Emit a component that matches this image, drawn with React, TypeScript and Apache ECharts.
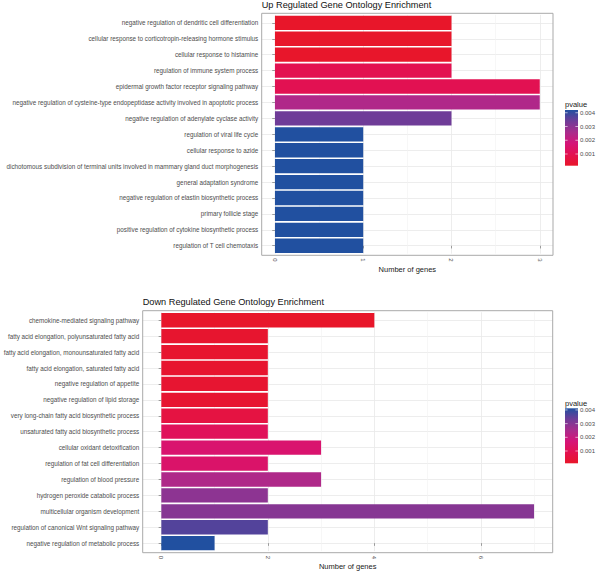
import React, { useEffect, useRef } from "react";
import * as echarts from "echarts";

const upTitle = "Up Regulated Gene Ontology Enrichment";
const downTitle = "Down Regulated Gene Ontology Enrichment";
const axisName = "Number of genes";
const legendTitle = "pvalue";

const upCategories = [
  "negative regulation of dendritic cell differentiation",
  "cellular response to corticotropin-releasing hormone stimulus",
  "cellular response to histamine",
  "regulation of immune system process",
  "epidermal growth factor receptor signaling pathway",
  "negative regulation of cysteine-type endopeptidase activity involved in apoptotic process",
  "negative regulation of adenylate cyclase activity",
  "regulation of viral life cycle",
  "cellular response to azide",
  "dichotomous subdivision of terminal units involved in mammary gland duct morphogenesis",
  "general adaptation syndrome",
  "negative regulation of elastin biosynthetic process",
  "primary follicle stage",
  "positive regulation of cytokine biosynthetic process",
  "regulation of T cell chemotaxis",
];
const upCounts = [2, 2, 2, 2, 3, 3, 2, 1, 1, 1, 1, 1, 1, 1, 1];
const upPvalues = [
  0.00015, 0.00015, 0.00018, 0.00095, 0.001, 0.00246, 0.00339,
  0.0042, 0.0042, 0.0042, 0.0042, 0.0042, 0.0042, 0.0042, 0.0042,
];

const downCategories = [
  "chemokine-mediated signaling pathway",
  "fatty acid elongation, polyunsaturated fatty acid",
  "fatty acid elongation, monounsaturated fatty acid",
  "fatty acid elongation, saturated fatty acid",
  "negative regulation of appetite",
  "negative regulation of lipid storage",
  "very long-chain fatty acid biosynthetic process",
  "unsaturated fatty acid biosynthetic process",
  "cellular oxidant detoxification",
  "regulation of fat cell differentiation",
  "regulation of blood pressure",
  "hydrogen peroxide catabolic process",
  "multicellular organism development",
  "regulation of canonical Wnt signaling pathway",
  "negative regulation of metabolic process",
];
const downCounts = [4, 2, 2, 2, 2, 2, 2, 2, 3, 2, 3, 2, 7, 2, 1];
const downPvalues = [
  0.0001, 0.0002, 0.0002, 0.0002, 0.00025, 0.00025, 0.0006, 0.0011,
  0.0015, 0.0014, 0.0024, 0.0029, 0.003, 0.0036, 0.00412,
];

const upTicks = [0, 1, 2, 3];
const upMinorTicks = [0.5, 1.5, 2.5];
const downTicks = [0, 2, 4, 6];
const downMinorTicks = [1, 3, 5, 7];
const legendTicks = [0.001, 0.002, 0.003, 0.004];
const legendTickLabels = ["0.001", "0.002", "0.003", "0.004"];

const gradientColors = ["#e8162a", "#e31150", "#d51478", "#a92c8c", "#6f3c98", "#2150a0"];

const FONT = "Liberation Sans, Arial, Helvetica, sans-serif";

export default function App() {
  const ref = useRef<HTMLDivElement>(null);

  useEffect(() => {
    if (!ref.current) return;
    const chart = echarts.init(ref.current, null, { renderer: "svg" });

    const panels = [
      {
        cats: upCategories, counts: upCounts, pvals: upPvalues,
        ticks: upTicks, minor: upMinorTicks, min: -0.15, max: 3.15,
        left: 261.7, right: 553, top: 13.3, bottom: 255.3,
        title: upTitle, titleTop: 0.5,
        legTop: 110, legH: 55.7, legTitleY: 104.5,
      },
      {
        cats: downCategories, counts: downCounts, pvals: downPvalues,
        ticks: downTicks, minor: downMinorTicks, min: -0.35, max: 7.35,
        left: 142.7, right: 552.7, top: 310.7, bottom: 552.7,
        title: downTitle, titleTop: 297.5,
        legTop: 408.3, legH: 55, legTitleY: 403,
      },
    ];

    const grid: any[] = [];
    const xAxis: any[] = [];
    const yAxis: any[] = [];
    const series: any[] = [];
    const visualMap: any[] = [];
    const title: any[] = [];
    const graphic: any[] = [];

    panels.forEach((p, gi) => {
      const h = p.bottom - p.top;
      const unit = h / (p.cats.length + 0.2);
      const inset = unit * 0.1;
      grid.push({
        left: p.left, top: p.top + inset, width: p.right - p.left, height: h - 2 * inset,
        show: false, containLabel: false, outerBoundsMode: "none",
      });
      xAxis.push({
        type: "value", gridIndex: gi, min: p.min, max: p.max, position: "bottom",
        offset: inset,
        axisLine: { show: false },
        axisTick: { show: true, length: 2.7, customValues: p.ticks, lineStyle: { color: "#777", width: 0.7 } },
        axisLabel: {
          customValues: p.ticks, rotate: -90, fontSize: 6, color: "#4d4d4d", margin: 3, fontFamily: FONT,
        },
        splitLine: { show: true, lineStyle: { color: "#e8e8e8", width: 0.8 } },
        name: axisName, nameLocation: "middle", nameGap: 9,
        nameTextStyle: { fontSize: 7.5, color: "#1a1a1a", fontFamily: FONT },
      });
      xAxis.push({
        type: "value", gridIndex: gi, min: p.min, max: p.max, position: "top",
        axisLine: { show: false },
        axisTick: { show: false, customValues: p.minor },
        axisLabel: { show: false },
        splitLine: { show: true, lineStyle: { color: "#f1f1f1", width: 0.6 } },
      });
      yAxis.push({
        type: "category", gridIndex: gi, data: p.cats, inverse: true,
        axisLine: { show: false },
        axisTick: { show: true, alignWithLabel: true, length: 2.7, lineStyle: { color: "#777", width: 0.7 } },
        axisLabel: { fontSize: 6.3, color: "#4d4d4d", margin: 3.5, fontFamily: FONT },
        splitLine: { show: false },
      });
      const centers = p.cats.map((_, i) => i);
      yAxis.push({
        type: "value", gridIndex: gi, min: -0.5, max: p.cats.length - 0.5, position: "right",
        axisLine: { show: false },
        axisTick: { show: false, customValues: centers },
        axisLabel: { show: false },
        splitLine: { show: true, lineStyle: { color: "#e8e8e8", width: 0.8 } },
      });

      series.push({
        type: "bar",
        xAxisIndex: gi * 2,
        yAxisIndex: gi * 2,
        barWidth: unit * 0.9,
        data: p.cats.map((c, i) => [p.counts[i], c, p.pvals[i]]),
        encode: { x: 0, y: 1 },
        itemStyle: { borderWidth: 0 },
        z: 3,
      });

      const pmin = Math.min(...p.pvals);
      const pmax = Math.max(...p.pvals);
      visualMap.push({
        type: "continuous", show: false, seriesIndex: gi, dimension: 2,
        min: pmin, max: pmax, inRange: { color: gradientColors },
      });

      title.push({
        text: p.title, left: p.left, top: p.titleTop, padding: 0,
        textStyle: { fontSize: 9.2, fontWeight: "normal", color: "#111", fontFamily: FONT },
      });

      graphic.push({
        type: "rect", z: 100,
        shape: { x: p.left, y: p.top, width: p.right - p.left, height: h },
        style: { fill: "none", stroke: "#a9a9a9", lineWidth: 1 },
      });

      const lx = 565, lw = 13;
      graphic.push({
        type: "text", z: 100,
        style: { text: legendTitle, x: lx, y: p.legTitleY, fontSize: 7.5, fontFamily: FONT, fill: "#1a1a1a", align: "left", verticalAlign: "middle" },
      });
      graphic.push({
        type: "rect", z: 100,
        shape: { x: lx, y: p.legTop, width: lw, height: p.legH },
        style: {
          fill: new echarts.graphic.LinearGradient(0, 1, 0, 0,
            gradientColors.map((c, i) => ({ offset: i / (gradientColors.length - 1), color: c }))),
        },
      });
      legendTicks.forEach((v, i) => {
        const y = p.legTop + p.legH * (1 - (v - pmin) / (pmax - pmin));
        graphic.push({
          type: "line", z: 101,
          shape: { x1: lx, y1: y, x2: lx + 2.6, y2: y },
          style: { stroke: "#ffffff", lineWidth: 0.6 },
        });
        graphic.push({
          type: "line", z: 101,
          shape: { x1: lx + lw - 2.6, y1: y, x2: lx + lw, y2: y },
          style: { stroke: "#ffffff", lineWidth: 0.6 },
        });
        graphic.push({
          type: "text", z: 101,
          style: { text: legendTickLabels[i], x: 580, y, fontSize: 6, fontFamily: FONT, fill: "#4d4d4d", align: "left", verticalAlign: "middle" },
        });
      });
    });

    chart.setOption({
      animation: false,
      backgroundColor: "#ffffff",
      textStyle: { fontFamily: FONT },
      title,
      grid,
      xAxis,
      yAxis,
      visualMap,
      series,
      graphic,
    });

    return () => chart.dispose();
  }, []);

  return (
    <div
      ref={ref}
      style={{ position: "absolute", left: 0, top: 0, width: 598, height: 571 }}
    />
  );
}
